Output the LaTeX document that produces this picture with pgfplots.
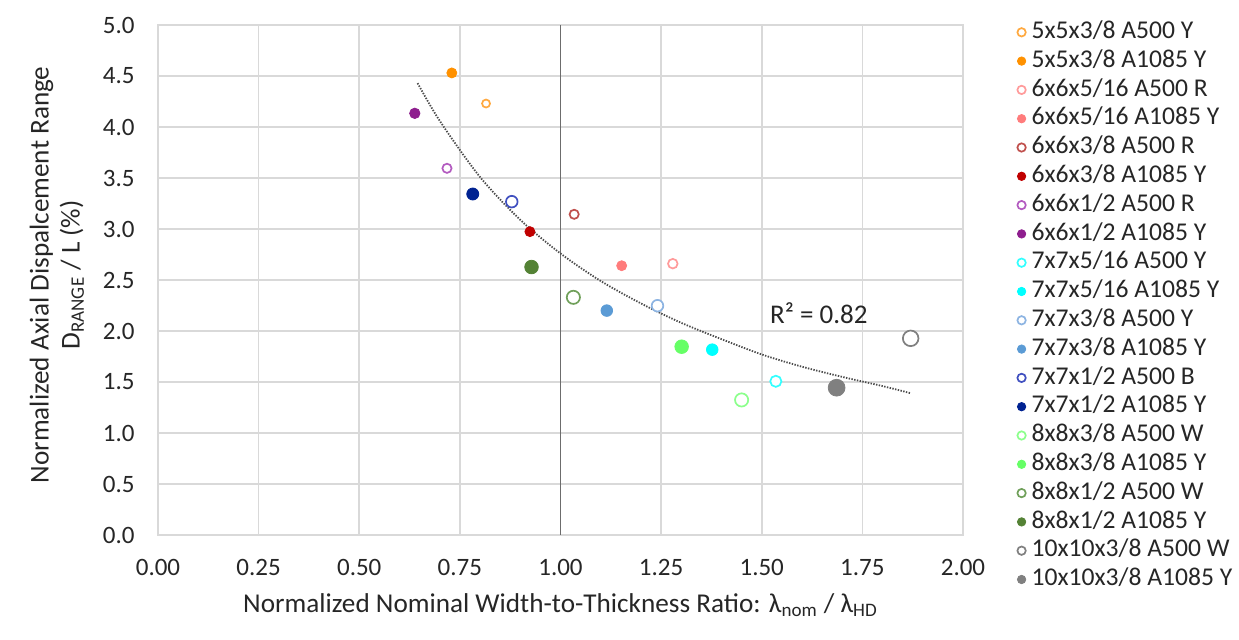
\documentclass[border=0pt,12pt]{standalone}
\usepackage{fontspec}
\setmainfont{Carlito}
\usepackage{pgfplots}
\pgfplotsset{compat=1.18}
\definecolor{gridc}{HTML}{D9D9D9}
\definecolor{txt}{HTML}{262626}
\definecolor{cOrO}{HTML}{FFA940}
\definecolor{cOrF}{HTML}{FF9100}
\definecolor{cPkO}{HTML}{FF9B9B}
\definecolor{cPkF}{HTML}{FF7C7C}
\definecolor{cRdO}{HTML}{C0504D}
\definecolor{cRdF}{HTML}{C00000}
\definecolor{cPuO}{HTML}{B35BC0}
\definecolor{cPuF}{HTML}{8E1E8E}
\definecolor{cCyO}{HTML}{33FFFF}
\definecolor{cCyF}{HTML}{00FFFF}
\definecolor{cLbO}{HTML}{8DB4E2}
\definecolor{cLbF}{HTML}{5B9BD5}
\definecolor{cBlO}{HTML}{4050C0}
\definecolor{cBlF}{HTML}{002291}
\definecolor{cLgO}{HTML}{8CFF8C}
\definecolor{cLgF}{HTML}{66FF66}
\definecolor{cGrO}{HTML}{70A05A}
\definecolor{cGrF}{HTML}{548235}
\definecolor{cGy}{HTML}{808080}
\begin{document}
\begin{tikzpicture}
\path[use as bounding box] (-79pt,-52.5pt) rectangle (540.5pt,267.5pt);
\begin{axis}[
  scale only axis,
  width=402.5pt, height=255pt,
  xmin=0, xmax=2, ymin=0, ymax=5,
  xtick={0,0.25,...,2.0}, ytick={0,0.5,...,5.0},
  major tick length=0pt,
  grid=major,
  grid style={gridc, line width=0.8pt},
  axis line style={gridc, line width=0.8pt},
  /pgf/number format/assume math mode=true,
  tick label style={font=\fontsize{12.5}{15}\selectfont, text=txt},
  xticklabel style={/pgf/number format/.cd, fixed, fixed zerofill, precision=2, /tikz/.cd, yshift=-8pt},
  yticklabel style={/pgf/number format/.cd, fixed, fixed zerofill, precision=1, /tikz/.cd, xshift=-7.5pt},
  xlabel={Normalized Nominal Width-to-Thickness Ratio: λ\textsubscript{nom} / λ\textsubscript{HD}},
  ylabel={\begin{tabular}{c}Normalized Axial Dispalcement Range\\[-1pt]D\textsubscript{RANGE} / L (\%)\end{tabular}},
  label style={font=\fontsize{13.6}{16.5}\selectfont, text=txt},
  xlabel style={at={(axis description cs:0.5,-0.137)}, anchor=center},
  ylabel style={at={(axis description cs:-0.1248,0.51)}, anchor=center},
  legend cell align=left,
  legend style={at={(axis description cs:1,1)}, anchor=north west, xshift=27pt, yshift=3.5pt,
    draw=none, fill=none, inner sep=0pt, row sep=0.5pt,
    font=\fontsize{12.8}{15}\selectfont, text=txt,
    nodes={inner sep=0.8pt, text height=9.3pt, text depth=3.0pt}},
  legend image code/.code={\draw[mark repeat=2,mark phase=2,#1] plot coordinates {(0cm,0cm)(0.15cm,0cm)(0.3cm,0cm)}; \path (0.15cm,0cm) ++(3.8pt,0pt);},
  legend image post style={mark size=2.1pt},
]
\addplot[only marks, mark=*, mark size=2.0pt, draw=cOrO, fill=white, line width=0.85pt] coordinates {(0.815,4.23)};
\addlegendentry{5x5x3/8 A500 Y}
\addplot[only marks, mark=*, mark size=2.5pt, draw=cOrF, fill=cOrF] coordinates {(0.73,4.53)};
\addlegendentry{5x5x3/8 A1085 Y}
\addplot[only marks, mark=*, mark size=2.4pt, draw=cPkO, fill=white, line width=0.85pt] coordinates {(1.279,2.66)};
\addlegendentry{6x6x5/16 A500 R}
\addplot[only marks, mark=*, mark size=2.5pt, draw=cPkF, fill=cPkF] coordinates {(1.152,2.64)};
\addlegendentry{6x6x5/16 A1085 Y}
\addplot[only marks, mark=*, mark size=2.3pt, draw=cRdO, fill=white, line width=0.85pt] coordinates {(1.034,3.144)};
\addlegendentry{6x6x3/8 A500 R}
\addplot[only marks, mark=*, mark size=2.5pt, draw=cRdF, fill=cRdF] coordinates {(0.924,2.974)};
\addlegendentry{6x6x3/8 A1085 Y}
\addplot[only marks, mark=*, mark size=2.3pt, draw=cPuO, fill=white, line width=0.85pt] coordinates {(0.718,3.595)};
\addlegendentry{6x6x1/2 A500 R}
\addplot[only marks, mark=*, mark size=2.6pt, draw=cPuF, fill=cPuF] coordinates {(0.638,4.134)};
\addlegendentry{6x6x1/2 A1085 Y}
\addplot[only marks, mark=*, mark size=2.8pt, draw=cCyO, fill=white, line width=0.85pt] coordinates {(1.535,1.507)};
\addlegendentry{7x7x5/16 A500 Y}
\addplot[only marks, mark=*, mark size=2.9pt, draw=cCyF, fill=cCyF] coordinates {(1.377,1.817)};
\addlegendentry{7x7x5/16 A1085 Y}
\addplot[only marks, mark=*, mark size=2.9pt, draw=cLbO, fill=white, line width=0.85pt] coordinates {(1.241,2.248)};
\addlegendentry{7x7x3/8 A500 Y}
\addplot[only marks, mark=*, mark size=2.9pt, draw=cLbF, fill=cLbF] coordinates {(1.115,2.20)};
\addlegendentry{7x7x3/8 A1085 Y}
\addplot[only marks, mark=*, mark size=2.9pt, draw=cBlO, fill=white, line width=0.85pt] coordinates {(0.879,3.268)};
\addlegendentry{7x7x1/2 A500 B}
\addplot[only marks, mark=*, mark size=3.0pt, draw=cBlF, fill=cBlF] coordinates {(0.782,3.343)};
\addlegendentry{7x7x1/2 A1085 Y}
\addplot[only marks, mark=*, mark size=3.3pt, draw=cLgO, fill=white, line width=0.85pt] coordinates {(1.450,1.324)};
\addlegendentry{8x8x3/8 A500 W}
\addplot[only marks, mark=*, mark size=3.4pt, draw=cLgF, fill=cLgF] coordinates {(1.301,1.846)};
\addlegendentry{8x8x3/8 A1085 Y}
\addplot[only marks, mark=*, mark size=3.3pt, draw=cGrO, fill=white, line width=0.85pt] coordinates {(1.032,2.33)};
\addlegendentry{8x8x1/2 A500 W}
\addplot[only marks, mark=*, mark size=3.4pt, draw=cGrF, fill=cGrF] coordinates {(0.928,2.627)};
\addlegendentry{8x8x1/2 A1085 Y}
\addplot[only marks, mark=*, mark size=3.9pt, draw=cGy, fill=white, line width=0.85pt] coordinates {(1.870,1.928)};
\addlegendentry{10x10x3/8 A500 W}
\addplot[only marks, mark=*, mark size=4.2pt, draw=cGy, fill=cGy] coordinates {(1.686,1.444)};
\addlegendentry{10x10x3/8 A1085 Y}
% vertical reference line at x = 1
\addplot[forget plot, draw=gray!85!black, line width=0.8pt] coordinates {(1,0) (1,5)};
% power trendline
\addplot[forget plot, smooth, draw=black!70, line width=0.9pt, dash pattern=on 0.7pt off 0.7pt] coordinates {
(0.645,4.43) (0.7,4.06) (0.8,3.51) (0.9,3.09) (1.0,2.76) (1.1,2.49) (1.2,2.27) (1.3,2.08)
(1.4,1.92) (1.5,1.77) (1.6,1.65) (1.7,1.55) (1.8,1.46) (1.87,1.39)};
\node[anchor=west, inner sep=0pt, font=\fontsize{13.5}{16}\selectfont, text=txt] at (axis cs:1.52,2.17) {R² = 0.82};
\end{axis}
\end{tikzpicture}
\end{document}
